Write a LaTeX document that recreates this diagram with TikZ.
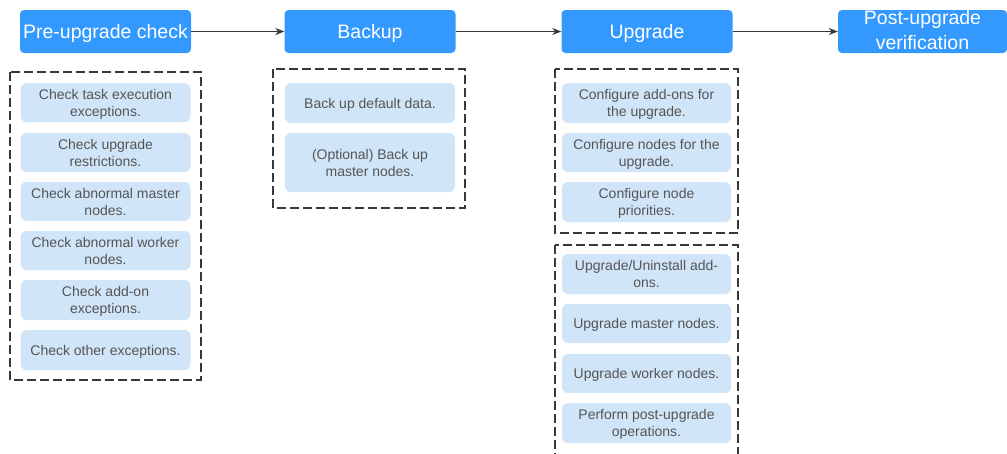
\documentclass[tikz,border=0pt]{standalone}
\usepackage{fontspec}
\setmainfont{Liberation Sans}
\usetikzlibrary{arrows.meta}
\definecolor{headblue}{HTML}{3399FF}
\definecolor{itemblue}{HTML}{D0E5F8}
\definecolor{txtgray}{HTML}{555555}
\definecolor{linegray}{HTML}{383838}
\begin{document}
\begin{tikzpicture}[x=1pt,y=-1pt,
  head/.style={fill=headblue, rounded corners=4pt, minimum width=171pt,
    minimum height=43pt, inner sep=0pt, text=white,
    font=\fontsize{19.5}{25}\selectfont, align=center},
  item/.style={fill=itemblue, rounded corners=6pt, minimum width=170pt,
    minimum height=39pt, inner sep=0pt, text=txtgray, text depth=-1pt,
    font=\fontsize{14}{17}\selectfont, align=center},
  group/.style={draw=linegray, dash pattern=on 9pt off 4pt, line width=1.2pt},
  flow/.style={draw=linegray, line width=1.1pt, -{Stealth[length=9pt,width=7pt]}}]

\useasboundingbox (0,0) rectangle (1007,453);
\clip (0,0) rectangle (1007,453);

% stage headers
\node[head, text depth=0pt] (pre) at (105.5,31.5) {Pre-upgrade check};
\node[head, text depth=0pt] (bak) at (370,31.5) {Backup};
\node[head, text depth=0pt] (upg) at (647,31.5) {Upgrade};
\node[head, minimum width=169pt, text depth=3.5pt] (post) at (922.5,31.5) {Post-upgrade\\verification};

\draw[flow] (pre) -- (bak);
\draw[flow] (bak) -- (upg);
\draw[flow] (upg) -- (post);

% dashed groups
\draw[group] (10,72) rectangle (201,380);
\draw[group] (273,69) rectangle (465,208);
\draw[group] (555,69) rectangle (738,233);
\draw[group] (555,245) rectangle (738,480);

% pre-upgrade check steps
\node[item] (c1) at (105.5,102.5) {Check task execution\\exceptions.};
\node[item] (c2) at (105.5,152.5) {Check upgrade\\restrictions.};
\node[item] (c3) at (105.5,201.5) {Check abnormal master\\nodes.};
\node[item] (c4) at (105.5,250.5) {Check abnormal worker\\nodes.};
\node[item, minimum height=40pt] (c5) at (105.5,300) {Check add-on\\exceptions.};
\node[item, minimum height=40pt] (c6) at (105.5,350) {Check other exceptions.};

% backup steps
\node[item, minimum height=40pt] (b1) at (370,103) {Back up default data.};
\node[item, minimum height=59pt] (b2) at (370,162.5) {(Optional) Back up\\master nodes.};

% upgrade configuration steps
\node[item, minimum width=169pt, minimum height=40pt] (u1) at (646.5,103) {Configure add-ons for\\the upgrade.};
\node[item, minimum width=169pt] (u2) at (646.5,152.5) {Configure nodes for the\\upgrade.};
\node[item, minimum width=169pt, minimum height=40pt] (u3) at (646.5,202) {Configure node\\priorities.};

% upgrade execution steps
\node[item, minimum width=169pt, minimum height=40pt] (e1) at (646.5,274) {Upgrade/Uninstall add-\\ons.};
\node[item, minimum width=169pt] (e2) at (646.5,323.5) {Upgrade master nodes.};
\node[item, minimum width=169pt] (e3) at (646.5,373.5) {Upgrade worker nodes.};
\node[item, minimum width=169pt, minimum height=40pt] (e4) at (646.5,423) {Perform post-upgrade\\operations.};
\end{tikzpicture}
\end{document}
